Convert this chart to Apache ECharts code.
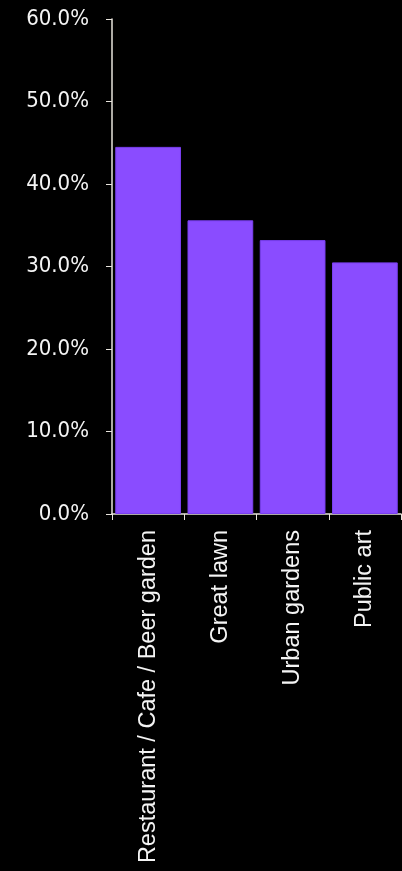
<!DOCTYPE html>
<html><head><meta charset="utf-8">
<script src="https://cdn.jsdelivr.net/npm/echarts@6/dist/echarts.min.js"></script>
<style>html,body{margin:0;padding:0;background:#000;}#c{width:402px;height:871px;}</style>
</head><body><div id="c"></div>
<script>
const categories = ["Restaurant / Cafe / Beer garden", "Great lawn", "Urban gardens", "Public art"];
const values = [44.5, 35.6, 33.2, 30.5];
const yTicks = [0, 10, 20, 30, 40, 50, 60];

const chart = echarts.init(document.getElementById('c'));
chart.setOption({
  backgroundColor: '#000',
  animation: false,
  grid: {left: 112, right: 1, top: 19, bottom: 357},
  xAxis: {
    type: 'category', data: categories,
    axisLine: {lineStyle: {color: '#e8e4dc', width: 1.5}},
    axisTick: {show: true, alignWithLabel: false, length: 6, lineStyle: {color: '#e8e4dc'}},
    axisLabel: {rotate: 90, color: '#f4f4f4', fontFamily: 'Liberation Sans', fontSize: 23.5, margin: 16, interval: 0}
  },
  yAxis: {
    type: 'value', min: yTicks[0], max: yTicks[yTicks.length-1], interval: 10,
    splitLine: {show: false},
    axisLine: {show: true, lineStyle: {color: '#e8e4dc', width: 1.5}},
    axisTick: {show: true, length: 6, lineStyle: {color: '#e8e4dc'}},
    axisLabel: {color: '#f4f4f4', fontFamily: 'DejaVu Sans Condensed', fontSize: 22, margin: 23,
      formatter: v => v.toFixed(1) + '%'}
  },
  series: [{
    type: 'bar', data: values, barCategoryGap: '9%',
    itemStyle: {color: '#8a4cff', borderColor: '#7a3ff0', borderWidth: 1}
  }]
});
</script></body></html>
